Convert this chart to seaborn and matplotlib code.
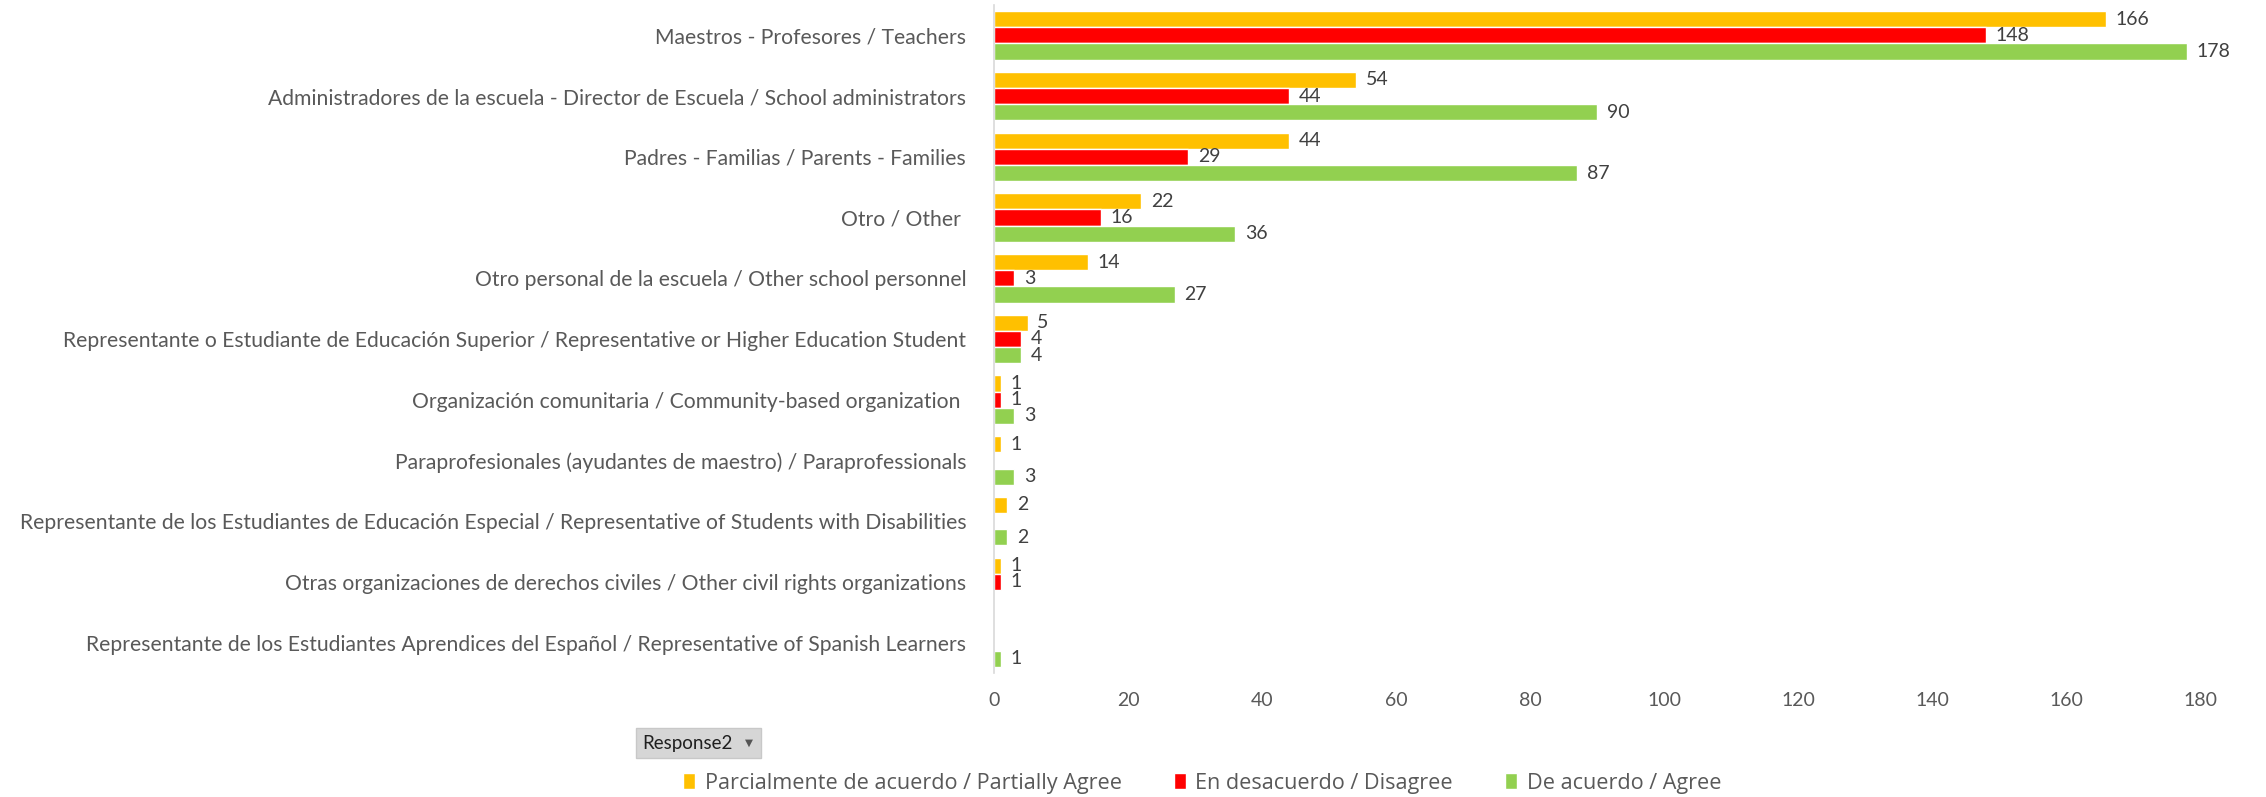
import numpy as np
import pandas as pd
import matplotlib
matplotlib.use("Agg")
import matplotlib.pyplot as plt
from matplotlib.patches import Rectangle
import seaborn as sns

# categories, top to bottom
categories = [
    "Maestros - Profesores / Teachers",
    "Administradores de la escuela - Director de Escuela / School administrators",
    "Padres - Familias / Parents - Families",
    "Otro / Other ",
    "Otro personal de la escuela / Other school personnel",
    "Representante o Estudiante de Educación Superior / Representative or Higher Education Student",
    "Organización comunitaria / Community-based organization ",
    "Paraprofesionales (ayudantes de maestro) / Paraprofessionals",
    "Representante de los Estudiantes de Educación Especial / Representative of Students with Disabilities",
    "Otras organizaciones de derechos civiles / Other civil rights organizations",
    "Representante de los Estudiantes Aprendices del Español / Representative of Spanish Learners",
]
responses = [
    "Parcialmente de acuerdo / Partially Agree",
    "En desacuerdo / Disagree",
    "De acuerdo / Agree",
]
partially_agree = [166, 54, 44, 22, 14, 5, 1, 1, 2, 1, None]
disagree = [148, 44, 29, 16, 3, 4, 1, None, None, 1, None]
agree = [178, 90, 87, 36, 27, 4, 3, 3, 2, None, 1]
x_ticks = [0, 20, 40, 60, 80, 100, 120, 140, 160, 180]

palette = {responses[0]: "#FFC000", responses[1]: "#FF0000", responses[2]: "#92D050"}

rows = []
for series, vals in zip(responses, [partially_agree, disagree, agree]):
    for cat, v in zip(categories, vals):
        if v is not None:
            rows.append({"Category": cat, "Response2": series, "Count": v})
df = pd.DataFrame(rows)

sns.set_style("white")
plt.rcParams["font.family"] = ["Lato", "DejaVu Sans"]
text_color = "#595959"
W, H = 2266, 797

fig = plt.figure(figsize=(W / 100, H / 100), dpi=100)
ax = fig.add_axes([994 / W, 1 - 673 / H, (2200 - 994) / W, (673 - 5) / H])

sns.barplot(data=df, y="Category", x="Count", hue="Response2", order=categories,
            hue_order=responses, palette=palette, orient="h", width=0.8,
            saturation=1, ax=ax, legend=True)

for cont in ax.containers:
    ax.bar_label(cont, fmt="%d", padding=7, fontsize=14, color="#404040")

ax.set_xlim(0, 180)
ax.set_ylim(len(categories) - 0.5, -0.5)
ax.set_xticks(x_ticks)
ax.set_xlabel("")
ax.set_ylabel("")
ax.tick_params(axis="y", length=0, pad=20, labelsize=15.2, labelcolor=text_color)
ax.tick_params(axis="x", length=0, pad=14, labelsize=14, labelcolor=text_color)
for side in ["top", "right", "bottom"]:
    ax.spines[side].set_visible(False)
ax.spines["left"].set_color("#D9D9D9")
ax.spines["left"].set_linewidth(1.2)

handles, labels = ax.get_legend_handles_labels()
ax.get_legend().remove()
fig.legend(handles, labels, loc="center", bbox_to_anchor=(1202 / W, 1 - 783 / H),
           ncol=3, frameon=False, labelcolor=text_color,
           prop={"family": ["Open Sans", "Lato", "DejaVu Sans"], "size": 15.6},
           handlelength=0.55, handleheight=0.75, handletextpad=0.45, columnspacing=2.4)

# pivot field button
fig.patches.append(Rectangle((636 / W, 1 - 758 / H), 125 / W, 30 / H,
                             transform=fig.transFigure, facecolor="#D6D6D6",
                             edgecolor="#C8C8C8", linewidth=1))
fig.text(642 / W, 1 - 744 / H, "Response2", ha="left", va="center",
         fontsize=13.5, color="#1F1F1F")
fig.text(749 / W, 1 - 743 / H, "\u25BC", ha="center", va="center",
         fontsize=7.5, color="#555555", family="DejaVu Sans")

fig.savefig("out.png", dpi=100)
